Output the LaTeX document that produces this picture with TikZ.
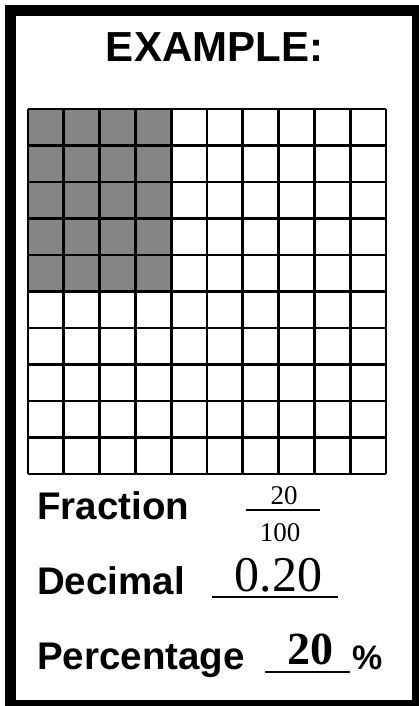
\documentclass[tikz,border=0pt]{standalone}
\usepackage{fontspec}
\setmainfont{Liberation Serif}
\setsansfont{Liberation Sans}
\usepackage{tikz}
\usetikzlibrary{positioning, calc}
\definecolor{ink}{HTML}{000000}
\definecolor{shade}{HTML}{858585}
\tikzset{
  % outer card frame
  frame/.style={draw=ink, line width=11pt},
  % hundred-square grid
  cellfill/.style={fill=shade},
  gridline/.style={draw=ink, line width=2.8pt},
  % bold sans labels on the left
  lbl/.style={font=\fontsize{38.5}{40}\selectfont\sffamily\bfseries,
    anchor=base west, inner sep=0pt},
  ttl/.style={font=\fontsize{42}{46}\selectfont\sffamily\bfseries,
    anchor=base, inner sep=0pt},
  % handwritten-style answers (serif)
  ans/.style={font=\fontsize{#1}{#1}\selectfont, anchor=base, inner sep=0pt},
  ansb/.style={font=\fontsize{#1}{#1}\selectfont\bfseries, anchor=base, inner sep=0pt},
  % answer blanks
  blank/.style={minimum width=#1, minimum height=0pt, inner sep=0pt, outer sep=0pt},
  blankrule/.style={draw=ink, line width=1.8pt},
}

\begin{document}
\begin{tikzpicture}[x=1pt, y=1pt]

\useasboundingbox (0,0) rectangle (419,706);
\clip (0,0) rectangle (419,706);
\fill[white] (0,0) rectangle (419,706);

% =====================================================================
% FRAME + TITLE
% =====================================================================
\draw[frame] (10.5,0.5) rectangle (417.5,695.5);

\node[ttl] (title) at (214.5,644) {EXAMPLE:};

% =====================================================================
% GRID  (10 x 10, first 4 columns x 5 rows shaded = 20 squares)
% =====================================================================
\def\gx{28}\def\gy{232}\def\cw{35.8}\def\ch{36.5}

\fill[cellfill] (\gx,{\gy+5*\ch}) rectangle ({\gx+4*\cw},{\gy+10*\ch});

\foreach \i in {0,...,10}{
  \draw[gridline] ({\gx+\i*\cw},\gy) -- ({\gx+\i*\cw},{\gy+10*\ch});
  \draw[gridline] (\gx,{\gy+\i*\ch}) -- ({\gx+10*\cw},{\gy+\i*\ch});
}

% =====================================================================
% ANSWERS
% =====================================================================
\node[lbl] (frac) at (37,186) {Fraction};
\node[lbl] (dec)  at (37,111) {Decimal};
\node[lbl] (pct)  at (37,36)  {Percentage};

% -- fraction 20/100 ---------------------------------------------------
\node[blank=74] (bar) at (283,196) {};
\draw[blankrule] (bar.west) -- (bar.east);
\node[ans=27] (num) at (284,201) {20};
\node[ans=27] (den) at (280,164.3) {100};

% -- decimal -----------------------------------------------------------
\node[blank=126] (decline) at (275,109.3) {};
\draw[blankrule] (decline.west) -- (decline.east);
\node[ans=50] (decval) at (278.5,114.3) {0.20};

% -- percentage --------------------------------------------------------
\node[blank=85] (pctline) at (307.5,34.3) {};
\draw[blankrule] (pctline.west) -- (pctline.east);
\node[ansb=46] (pctval) at (310,41) {20};
\node[lbl, font=\fontsize{34}{36}\selectfont\sffamily\bfseries] (pctsign) at (352,36) {\%};

\end{tikzpicture}
\end{document}
